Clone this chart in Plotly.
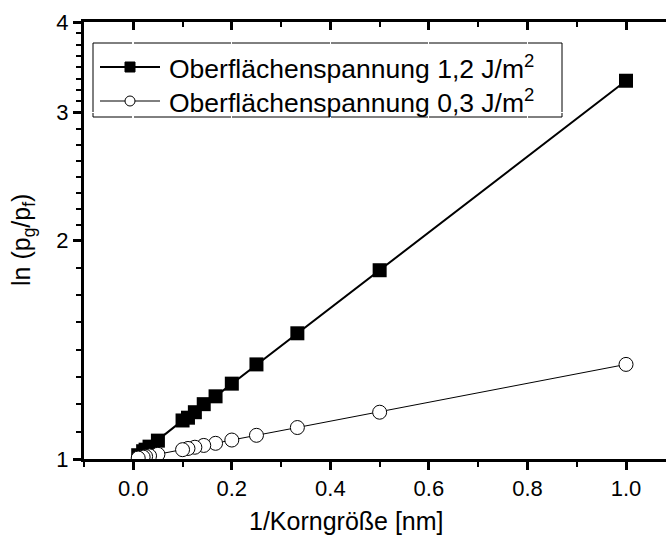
import numpy as np
import plotly.graph_objects as go

# Reciprocal grain size (1/nm) and pressure ratio for two surface tensions
inv_size = [1.0, 0.5, 0.333, 0.25, 0.2, 0.167, 0.143, 0.125, 0.111, 0.1,
            0.05, 0.033, 0.025, 0.02, 0.01]
ratio_12 = [3.32, 1.82, 1.49, 1.35, 1.27, 1.22, 1.19, 1.16, 1.14, 1.13,
            1.06, 1.04, 1.03, 1.025, 1.012]
ratio_03 = [1.35, 1.16, 1.105, 1.078, 1.062, 1.051, 1.044, 1.038, 1.034, 1.03,
            1.015, 1.01, 1.008, 1.006, 1.003]
series_names = ["Oberflächenspannung 1,2 J/m<sup>2</sup>",
                "Oberflächenspannung 0,3 J/m<sup>2</sup>"]
x_major = [0.0, 0.2, 0.4, 0.6, 0.8, 1.0]
x_labels = ["0.0", "0.2", "0.4", "0.6", "0.8", "1.0"]
x_minor = [-0.1, 0.1, 0.3, 0.5, 0.7, 0.9]
y_major = [1, 2, 3, 4]
x_title = "1/Korngröße [nm]"
y_title = "ln (p<sub>g</sub>/p<sub>f</sub>)"

W, H = 666, 543
L, R, T, B = 84, 0, 22, 84
PW, PH = W - L - R, H - T - B
FONT = "Arial, Liberation Sans, sans-serif"
X_RANGE = [-0.1, (W - R - 133) / 493]
Y_RANGE = [0, float(np.log10(4))]
TICK_COLOR = "black"


def fx(xp):
    return (xp - L) / PW


def fy(yp):
    return (H - B - yp) / PH


# evenly spaced (in log) minor ticks between the major ticks
y_minor = []
for a, b in zip(y_major[:-1], y_major[1:]):
    la, lb = np.log10(a), np.log10(b)
    y_minor += [float(10 ** (la + k * (lb - la) / 8)) for k in range(1, 8)]

fig = go.Figure()
fig.add_trace(go.Scatter(
    x=inv_size, y=ratio_12, mode="lines+markers", showlegend=False,
    line=dict(color="black", width=2),
    marker=dict(symbol="square", size=14, color="black"),
))
fig.add_trace(go.Scatter(
    x=inv_size, y=ratio_03, mode="lines+markers", showlegend=False,
    line=dict(color="black", width=1),
    marker=dict(symbol="circle", size=14, color="white",
                line=dict(color="black", width=1)),
))
# invisible carrier so the top axis gets drawn
fig.add_trace(go.Scatter(x=[0], y=[1], xaxis="x2", yaxis="y", mode="markers",
                         marker=dict(opacity=0), showlegend=False,
                         hoverinfo="skip"))

# legend samples
rows = [67, 101]
styles = [dict(lw=2, sym="square", fill="black", size=10),
          dict(lw=1, sym="circle", fill="white", size=10)]
for yrow, st in zip(rows, styles):
    fig.add_trace(go.Scatter(
        x=[fx(100), fx(160)], y=[fy(yrow)] * 2, xaxis="x3", yaxis="y3",
        mode="lines", line=dict(color="black", width=st["lw"]),
        showlegend=False, hoverinfo="skip"))
    fig.add_trace(go.Scatter(
        x=[fx(130)], y=[fy(yrow)], xaxis="x3", yaxis="y3", mode="markers",
        marker=dict(symbol=st["sym"], size=st["size"], color=st["fill"],
                    line=dict(color="black", width=1)),
        showlegend=False, hoverinfo="skip"))

axis_common = dict(showline=True, linecolor="black", linewidth=3,
                   tickcolor=TICK_COLOR, tickwidth=3,
                   tickfont=dict(family=FONT, size=22, color="black"))
minor_style = dict(ticklen=5, tickwidth=2, tickcolor=TICK_COLOR,
                   tickmode="array")

fig.update_layout(
    width=W, height=H,
    margin=dict(l=L, r=R, t=T, b=B),
    paper_bgcolor="white", plot_bgcolor="white",
    font=dict(family=FONT, color="black"),
    xaxis=dict(
        **axis_common, range=X_RANGE,
        tickmode="array", tickvals=x_major, ticktext=x_labels,
        ticks="outside", ticklen=8,
        minor=dict(**minor_style, ticks="outside", tickvals=x_minor),
    ),
    xaxis2=dict(
        **axis_common, overlaying="x", side="top", anchor="y",
        range=X_RANGE, showticklabels=False,
        tickmode="array", tickvals=x_major, ticks="inside", ticklen=8,
        minor=dict(**minor_style, ticks="inside", tickvals=x_minor),
    ),
    yaxis=dict(
        **axis_common, type="log", range=Y_RANGE,
        tickmode="array", tickvals=y_major, ticktext=[str(v) for v in y_major],
        ticks="outside", ticklen=8,
        minor=dict(**minor_style, ticks="outside", tickvals=y_minor),
    ),
    xaxis3=dict(overlaying="x", range=[0, 1], visible=False),
    yaxis3=dict(overlaying="y", range=[0, 1], visible=False),
    shapes=[dict(type="rect", xref="paper", yref="paper",
                 x0=fx(93), x1=fx(562), y0=fy(117), y1=fy(43),
                 line=dict(color="black", width=1), fillcolor="white",
                 layer="below")],
    annotations=[dict(text=name, xref="paper", yref="paper",
                      x=fx(167), y=fy(yrow), xanchor="left", yanchor="middle",
                      showarrow=False,
                      font=dict(family=FONT, size=26.5, color="black"))
                 for name, yrow in zip(series_names, rows)] + [
        dict(text=x_title, xref="paper", yref="paper",
             x=fx(346), y=fy(521), xanchor="center", yanchor="middle",
             showarrow=False, font=dict(family=FONT, size=25, color="black")),
        dict(text=y_title, xref="paper", yref="paper", textangle=-90,
             x=fx(23), y=fy(240), xanchor="center", yanchor="middle",
             showarrow=False, font=dict(family=FONT, size=25, color="black")),
    ],
)

fig.write_html("out.html")
